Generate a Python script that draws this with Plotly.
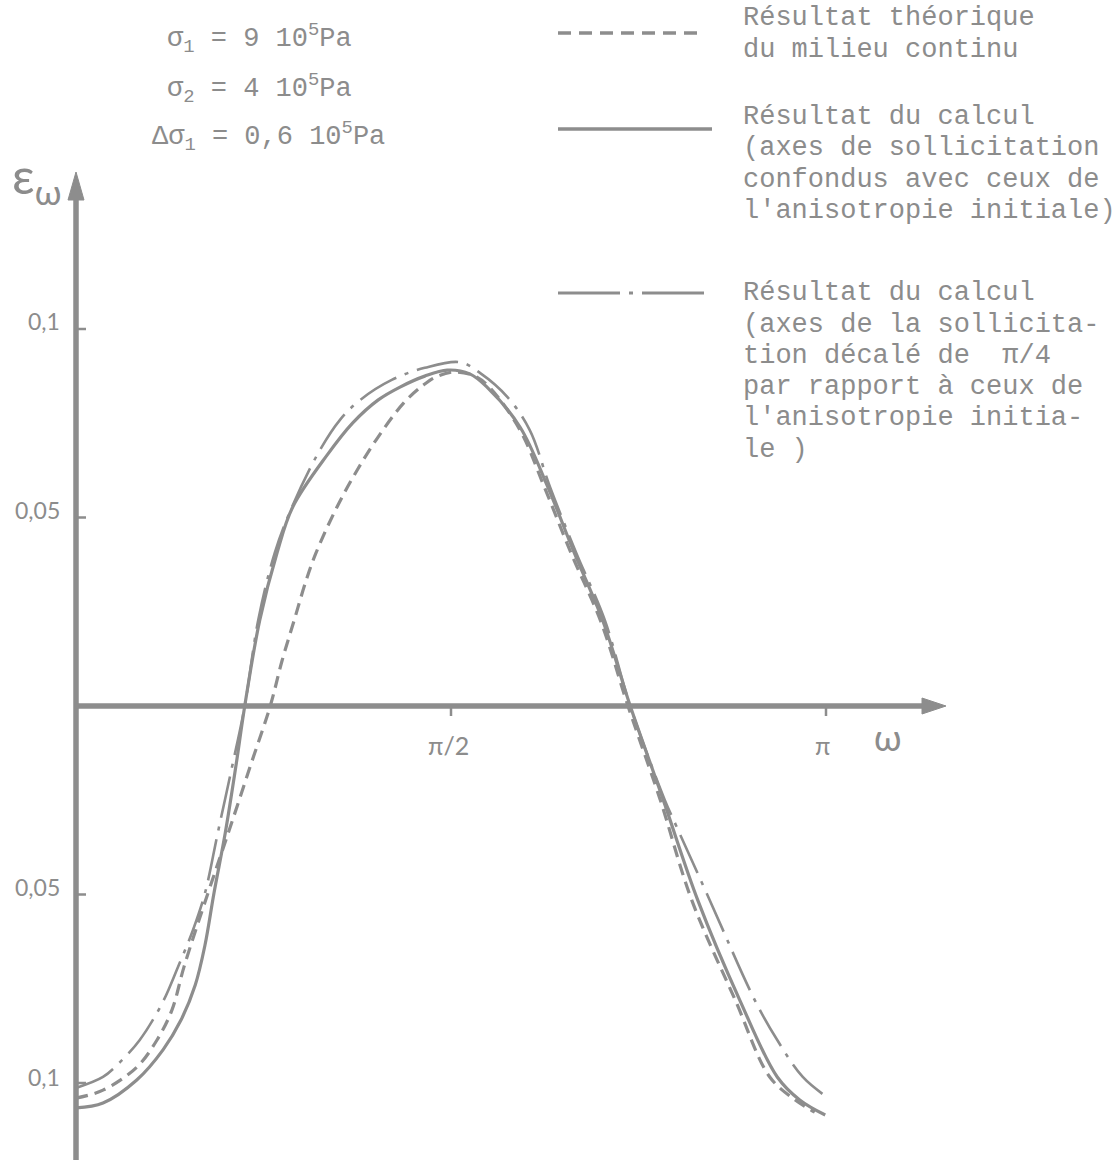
import plotly.graph_objects as go

# ---------------- data (omega in units of pi, epsilon) ----------------
omega_solid = [0.000, 0.036, 0.081, 0.116, 0.140, 0.159, 0.172, 0.184, 0.199, 0.213,
               0.225, 0.245, 0.268, 0.289, 0.335, 0.369, 0.403, 0.432, 0.465, 0.495,
               0.525, 0.548, 0.592, 0.628, 0.664, 0.703, 0.739, 0.783, 0.829, 0.885,
               0.935, 0.965, 0.999]
eps_solid = [-0.1066, -0.1053, -0.0992, -0.0912, -0.0833, -0.0740, -0.0634, -0.0496, -0.0337, -0.0162,
             0.0, 0.0228, 0.0406, 0.0528, 0.0666, 0.0751, 0.0812, 0.0846, 0.0875, 0.0891,
             0.0881, 0.0846, 0.0740, 0.0586, 0.0408, 0.0223, 0.0, -0.0249, -0.0515, -0.0780,
             -0.0984, -0.1045, -0.1085]

omega_theo = [0.000, 0.036, 0.081, 0.108, 0.128, 0.144, 0.176, 0.203, 0.232, 0.259,
              0.275, 0.291, 0.307, 0.320, 0.348, 0.375, 0.403, 0.437, 0.463, 0.480,
              0.505, 0.532, 0.552, 0.592, 0.625, 0.661, 0.700, 0.736, 0.779, 0.821,
              0.879, 0.925, 0.959, 0.985]
eps_theo = [-0.1040, -0.1019, -0.0958, -0.0886, -0.0806, -0.0692, -0.0496, -0.0337, -0.0162, 0.0,
            0.0122, 0.0228, 0.0334, 0.0406, 0.0528, 0.0626, 0.0714, 0.0804, 0.0851, 0.0873,
            0.0886, 0.0875, 0.0844, 0.0732, 0.0578, 0.0401, 0.0223, 0.0, -0.0249, -0.0515,
            -0.0780, -0.0984, -0.1045, -0.1077]

omega_shift = [0.000, 0.036, 0.059, 0.085, 0.115, 0.136, 0.156, 0.172, 0.189, 0.208,
               0.225, 0.243, 0.265, 0.288, 0.323, 0.352, 0.379, 0.421, 0.465, 0.512,
               0.539, 0.575, 0.605, 0.632, 0.667, 0.705, 0.739, 0.785, 0.801, 0.845,
               0.905, 0.935, 0.969, 1.003]
eps_shift = [-0.1013, -0.0984, -0.0944, -0.0886, -0.0788, -0.0692, -0.0594, -0.0496, -0.0337, -0.0162,
             0.0, 0.0228, 0.0406, 0.0528, 0.0671, 0.0759, 0.0812, 0.0865, 0.0897, 0.0912,
             0.0883, 0.0820, 0.0732, 0.0581, 0.0406, 0.0228, 0.0, -0.0249, -0.0321, -0.0515,
             -0.0780, -0.0886, -0.0984, -0.1040]

y_ticks = [0.1, 0.05, -0.05, -0.1]
y_tick_labels = ["0,1", "0,05", "0,05", "0,1"]
x_ticks = [0.5, 1.0]
x_tick_labels = ["π/2", "π"]

params = ["σ<sub>1</sub> = 9 10<sup>5</sup>Pa",
          "σ<sub>2</sub> = 4 10<sup>5</sup>Pa",
          "Δσ<sub>1</sub> = 0,6 10<sup>5</sup>Pa"]

legend_blocks = [
    ["Résultat théorique", "du milieu continu"],
    ["Résultat du calcul", "(axes de sollicitation", "confondus avec ceux de",
     "l'anisotropie initiale)"],
    ["Résultat du calcul", "(axes de la sollicita-", "tion décalé de  π/4",
     "par rapport à ceux de", "l'anisotropie initia-", "le )"],
]

# ---------------- layout helpers ----------------
W, H = 1115, 1160
GRAY = "#8d8d8d"
TXT = "#8c8c8c"
MONO = "Liberation Mono"
SANS = "Lato"


def px(x):
    return x / W


def py(y):
    return 1 - y / H


# axis scale (omega/pi -> px: 76 + 750*t ; eps -> px: 706 - 3770*e)
XR = [-76 / 750, (W - 76) / 750]
YR = [(706 - H) / 3770, 706 / 3770]
dx = 1 / 750    # one pixel in x data units
dy = 1 / 3770   # one pixel in y data units

fig = go.Figure()

fig.add_trace(go.Scatter(x=omega_theo, y=eps_theo, mode="lines",
                         line=dict(color=GRAY, width=3.2, dash="12px,7px", shape="spline", smoothing=1.0),
                         name="Résultat théorique du milieu continu", showlegend=False))
fig.add_trace(go.Scatter(x=omega_solid, y=eps_solid, mode="lines",
                         line=dict(color=GRAY, width=3.2, shape="spline", smoothing=1.0),
                         name="Résultat du calcul (axes confondus)", showlegend=False))
fig.add_trace(go.Scatter(x=omega_shift, y=eps_shift, mode="lines",
                         line=dict(color=GRAY, width=2.6, dash="42px,9px,4px,9px", shape="spline", smoothing=1.0),
                         name="Résultat du calcul (axes décalés de π/4)", showlegend=False))

shapes = []
# y axis line + arrow
shapes.append(dict(type="line", xref="x", yref="y", x0=0, x1=0, y0=YR[0], y1=(706 - 198) * dy,
                   line=dict(color=GRAY, width=5.5)))
shapes.append(dict(type="path", xref="x", yref="y", fillcolor=GRAY, line=dict(color=GRAY, width=1),
                   path=f"M {-8*dx} {(706-200)*dy} L {8*dx} {(706-200)*dy} L 0 {(706-172)*dy} Z"))
# x axis line + arrow
shapes.append(dict(type="line", xref="x", yref="y", x0=0, x1=(925 - 76) * dx, y0=0, y1=0,
                   line=dict(color=GRAY, width=5.5)))
shapes.append(dict(type="path", xref="x", yref="y", fillcolor=GRAY, line=dict(color=GRAY, width=1),
                   path=f"M {(922-76)*dx} {8*dy} L {(922-76)*dx} {-8*dy} L {(946-76)*dx} 0 Z"))
# ticks
for v in y_ticks:
    shapes.append(dict(type="line", xref="x", yref="y", x0=0, x1=10 * dx, y0=v, y1=v,
                       line=dict(color=GRAY, width=2.5)))
for v in x_ticks:
    shapes.append(dict(type="line", xref="x", yref="y", x0=v, x1=v, y0=0, y1=-10 * dy,
                       line=dict(color=GRAY, width=2.5)))

# legend samples (paper coords)
shapes.append(dict(type="line", xref="paper", yref="paper", x0=px(558), x1=px(704), y0=py(33), y1=py(33),
                   line=dict(color=GRAY, width=3.5, dash="13px,8px")))
shapes.append(dict(type="line", xref="paper", yref="paper", x0=px(558), x1=px(712), y0=py(129), y1=py(129),
                   line=dict(color=GRAY, width=3.5)))
shapes.append(dict(type="line", xref="paper", yref="paper", x0=px(558), x1=px(712), y0=py(293), y1=py(293),
                   line=dict(color=GRAY, width=3.2, dash="62px,9px,4px,9px")))

annotations = []
# tick labels
y_shift = [8, 8, 8, 6]
for v, lab, s in zip(y_ticks, y_tick_labels, y_shift):
    annotations.append(dict(x=0, y=v, xref="x", yref="y", text=lab, showarrow=False,
                            xanchor="right", yanchor="middle", xshift=-14, yshift=s,
                            font=dict(family=SANS, size=23, color=TXT)))
x_shift = [-3, -4]
for v, lab, s in zip(x_ticks, x_tick_labels, x_shift):
    annotations.append(dict(x=v, y=0, xref="x", yref="y", text=lab, showarrow=False,
                            xanchor="center", yanchor="middle", xshift=s, yshift=-39,
                            font=dict(family=SANS, size=25, color=TXT)))
# axis titles
annotations.append(dict(x=(888 - 76) * dx, y=0, xref="x", yref="y", text="ω", showarrow=False,
                        xanchor="center", yanchor="middle", yshift=-31,
                        font=dict(family=SANS, size=36, color=TXT)))
annotations.append(dict(x=px(10), y=py(178), xref="paper", yref="paper", text="ε<sub>ω</sub>",
                        showarrow=False, xanchor="left", yanchor="middle",
                        font=dict(family=SANS, size=50, color=TXT)))

# parameters
param_pos = [(165, 38), (165, 88), (150, 137)]
for t, (x0, y0) in zip(params, param_pos):
    annotations.append(dict(x=px(x0), y=py(y0), xref="paper", yref="paper", text=t, showarrow=False,
                            xanchor="left", yanchor="middle",
                            font=dict(family=MONO, size=27, color=TXT)))

# legend texts
block_y = [[18, 50], [117, 148, 180, 211], [293, 325, 356, 387, 418, 450]]
for lines, ys in zip(legend_blocks, block_y):
    for t, yy in zip(lines, ys):
        annotations.append(dict(x=px(741), y=py(yy), xref="paper", yref="paper", text=t, showarrow=False,
                                xanchor="left", yanchor="middle",
                                font=dict(family=MONO, size=27, color=TXT)))

fig.update_layout(
    width=W, height=H, autosize=False,
    margin=dict(l=0, r=0, t=0, b=0, pad=0),
    paper_bgcolor="white", plot_bgcolor="white",
    xaxis=dict(range=XR, visible=False, fixedrange=True),
    yaxis=dict(range=YR, visible=False, fixedrange=True),
    shapes=shapes, annotations=annotations, showlegend=False,
)

fig.write_html("out.html", config={"displayModeBar": False})
